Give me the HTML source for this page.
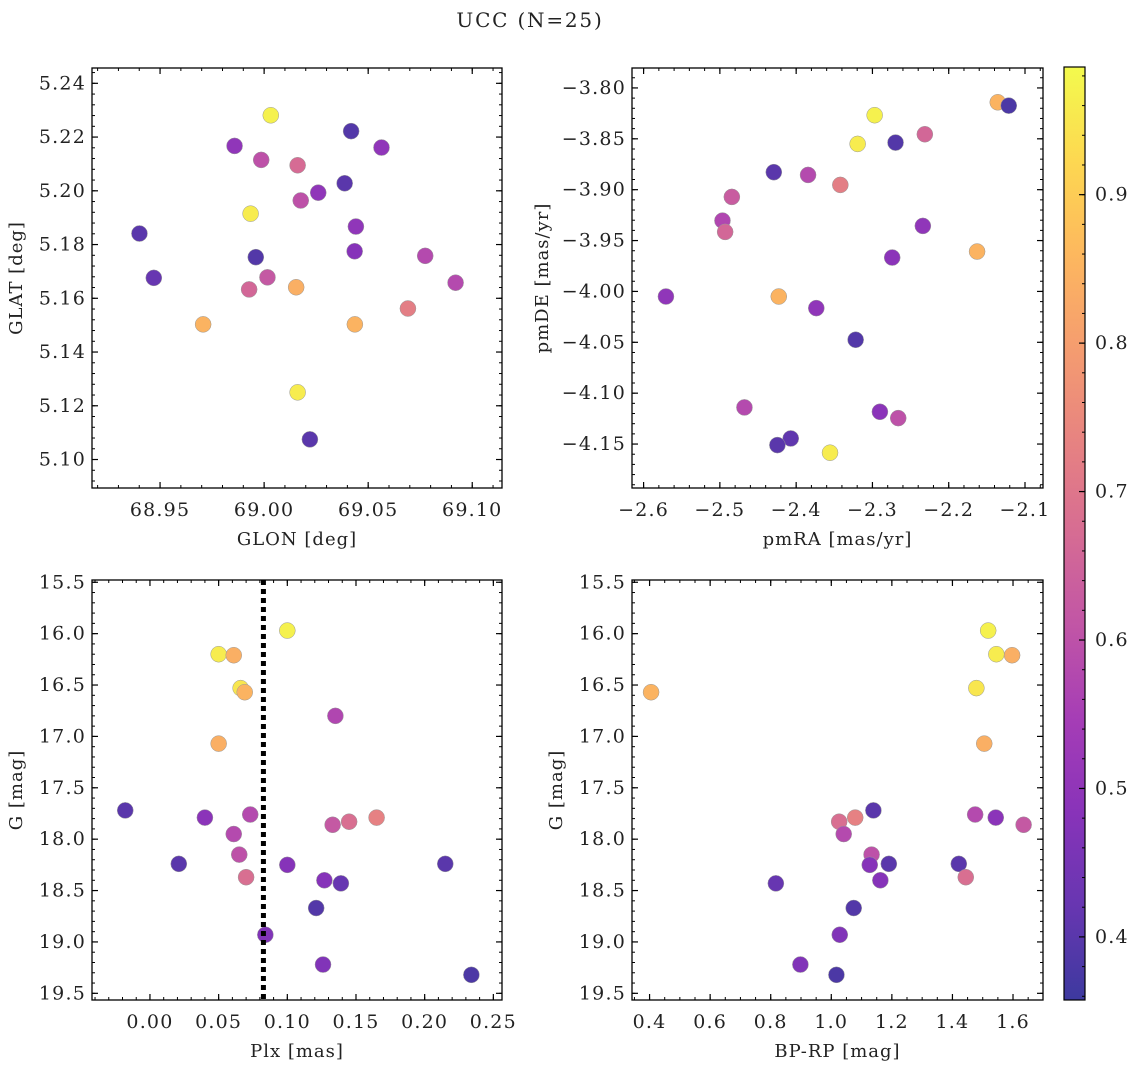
<!DOCTYPE html>
<html><head><meta charset="utf-8">
<style>html,body{margin:0;padding:0;background:#fff}svg{display:block}text{font-family:"DejaVu Serif","Liberation Serif",serif;fill:#222}</style>
</head><body>
<svg id="fig" width="1136" height="1067" viewBox="0 0 1136 1067" xmlns="http://www.w3.org/2000/svg">
<text x="530" y="27" text-anchor="middle" font-size="20" letter-spacing="1.8">UCC (N=25)</text>
</svg>
<script>
// Panel 1: GLON vs GLAT
const p1x=[69.0032,69.0418,68.9858,69.0564,68.9986,69.0161,69.0387,69.026,69.0176,68.9935,69.0441,68.9401,69.0435,68.996,69.0774,68.947,69.0016,69.092,68.9928,69.0154,69.0691,68.9707,69.0436,69.0161,69.022];
const p1y=[5.2281,5.2222,5.2167,5.2161,5.2115,5.2095,5.2028,5.1993,5.1964,5.1915,5.1867,5.1841,5.1775,5.1753,5.1758,5.1676,5.1678,5.1658,5.1633,5.1641,5.1562,5.1503,5.1503,5.125,5.1075];
const p1c=[0.97,0.39,0.50,0.50,0.60,0.67,0.40,0.50,0.60,0.96,0.50,0.40,0.48,0.39,0.58,0.42,0.62,0.58,0.66,0.84,0.72,0.85,0.85,0.96,0.40];
// Panel 2: pmRA vs pmDE
const p2x=[-2.1357,-2.1213,-2.2971,-2.2313,-2.3194,-2.2697,-2.4293,-2.3844,-2.3421,-2.4843,-2.4966,-2.4931,-2.2339,-2.1628,-2.2741,-2.5707,-2.4228,-2.3736,-2.322,-2.4678,-2.2902,-2.2662,-2.4071,-2.4246,-2.3556];
const p2y=[-3.8141,-3.8174,-3.8268,-3.8455,-3.855,-3.8537,-3.8828,-3.8855,-3.8953,-3.9071,-3.9304,-3.9415,-3.9356,-3.9608,-3.9667,-4.005,-4.005,-4.0164,-4.0475,-4.114,-4.1183,-4.1245,-4.1445,-4.151,-4.1585];
const p2c=[0.85,0.38,0.97,0.66,0.96,0.39,0.40,0.58,0.72,0.63,0.57,0.66,0.50,0.85,0.49,0.50,0.85,0.50,0.39,0.58,0.49,0.60,0.41,0.40,0.96];
// Panels 3/4: Plx, BP-RP vs G (shared stars)
const gmag=[15.97,16.20,16.21,16.53,16.57,16.80,17.07,17.72,17.79,17.76,17.79,17.83,17.86,17.95,18.15,18.24,18.25,18.24,18.37,18.40,18.43,18.67,18.93,19.22,19.32];
const plx=[0.100,0.050,0.061,0.066,0.069,0.135,0.050,-0.018,0.040,0.073,0.165,0.145,0.133,0.061,0.065,0.021,0.100,0.215,0.070,0.127,0.139,0.121,0.084,0.126,0.234];
const bprp=[1.518,1.545,1.597,1.479,0.405,null,1.505,1.139,1.543,1.475,1.079,1.026,1.635,1.041,1.133,1.190,1.127,1.421,1.444,1.162,0.817,1.074,1.028,0.898,1.017];
const prob34=[0.97,0.96,0.84,0.95,0.85,0.57,0.84,0.40,0.49,0.58,0.73,0.68,0.62,0.58,0.60,0.40,0.48,0.40,0.68,0.48,0.42,0.39,0.47,0.47,0.38];
const plxLine=0.0826;
const cbMin=0.3575, cbMax=0.986;
const cbTicks=[0.4,0.5,0.6,0.7,0.8,0.9];

const NS="http://www.w3.org/2000/svg";
const svg=document.getElementById('fig');
function el(tag,attrs,parent){const e=document.createElementNS(NS,tag);for(const k in attrs)e.setAttribute(k,attrs[k]);(parent||svg).appendChild(e);return e;}
const stops=[[13,8,135],[65,4,157],[106,0,168],[143,13,164],[177,42,144],[204,71,120],[225,100,98],[242,132,75],[252,166,54],[252,206,37],[240,249,33]];
const ALPHA=0.8;
function plasma(t){t=Math.max(0,Math.min(1,t));const f=t*10,i=Math.min(9,Math.floor(f)),r=f-i;const a=stops[i],b=stops[i+1];
 const m=k=>Math.round((a[k]+(b[k]-a[k])*r)*ALPHA+255*(1-ALPHA));
 return `rgb(${m(0)},${m(1)},${m(2)})`;}
function cmap(v){return plasma((v-cbMin)/(cbMax-cbMin));}
const TF=19, TLS=1.2, LF=18, LLS=1;

function panel(cfg){
 const {name,L,R,T,B,xmin,xmax,ymin,ymax,yinv,xmaj,xmin_,ymaj,ymin_,xfmt,yfmt,xlabel,ylabel}=cfg;
 const g=el('g',{});
 
 
 const sx=v=>L+(v-xmin)/(xmax-xmin)*(R-L);
 const sy=v=>yinv? T+(v-ymin)/(ymax-ymin)*(B-T) : B-(v-ymin)/(ymax-ymin)*(B-T);
 const eps=1e-9;
 function ticks(step,lo,hi){const a=[];let s=Math.ceil((lo-eps)/step);for(let v=s*step;v<=hi+eps;v=(++s)*step)a.push(+v.toFixed(6));return a;}
 ticks(xmin_,xmin,xmax).forEach(v=>{const x=sx(v);el('line',{x1:x,x2:x,y1:B,y2:B-3,stroke:'#000','stroke-width':1},g);el('line',{x1:x,x2:x,y1:T,y2:T+3,stroke:'#000','stroke-width':1},g);});
 ticks(ymin_,Math.min(ymin,ymax),Math.max(ymin,ymax)).forEach(v=>{const y=sy(v);el('line',{x1:L,x2:L+3,y1:y,y2:y,stroke:'#000','stroke-width':1},g);el('line',{x1:R,x2:R-3,y1:y,y2:y,stroke:'#000','stroke-width':1},g);});
 ticks(xmaj,xmin,xmax).forEach(v=>{const x=sx(v);el('line',{x1:x,x2:x,y1:B,y2:B-6,stroke:'#000','stroke-width':1.2},g);el('line',{x1:x,x2:x,y1:T,y2:T+6,stroke:'#000','stroke-width':1.2},g);
  const t=el('text',{x:x,y:B+28,'text-anchor':'middle','font-size':TF,'letter-spacing':TLS},g);t.textContent=xfmt(v);
  
  });
 ticks(ymaj,Math.min(ymin,ymax),Math.max(ymin,ymax)).forEach(v=>{const y=sy(v);el('line',{x1:L,x2:L+6,y1:y,y2:y,stroke:'#000','stroke-width':1.2},g);el('line',{x1:R,x2:R-6,y1:y,y2:y,stroke:'#000','stroke-width':1.2},g);
  const t=el('text',{x:L-6,y:y+6,'text-anchor':'end','font-size':TF,'letter-spacing':TLS},g);t.textContent=yfmt(v);
  
  });
 const xl=el('text',{x:(L+R)/2,y:B+57,'text-anchor':'middle','font-size':LF,'letter-spacing':LLS},g);xl.textContent=xlabel;
 
 
 const yl=el('text',{x:0,y:0,'text-anchor':'middle','font-size':LF,'letter-spacing':LLS,transform:`translate(${cfg.ylx},${(T+B)/2}) rotate(-90)`},g);yl.textContent=ylabel;
 
 
 return {g,sx,sy,frame:()=>el('rect',{x:L,y:T,width:R-L,height:B-T,fill:'none',stroke:'#000','stroke-width':1.3},g)};
}
const minus=s=>s.replace('-','\u2212');
function points(p,xs,ys,cs){xs.forEach((xv,i)=>{if(xv===null)return;const c=el('circle',{cx:p.sx(xv),cy:p.sy(ys[i]),r:8,fill:cmap(cs[i]),stroke:'#999','stroke-width':0.5},p.g);
 
 });}

const p1=panel({name:'glon-glat-panel',L:92,R:502,T:68,B:488,xmin:68.9173,xmax:69.1143,ymin:5.0894,ymax:5.2457,xmaj:0.05,xmin_:0.01,ymaj:0.02,ymin_:0.004,xfmt:v=>v.toFixed(2),yfmt:v=>v.toFixed(2),xlabel:'GLON [deg]',ylabel:'GLAT [deg]',ylx:22});
points(p1,p1x,p1y,p1c);p1.frame();
const p2=panel({name:'pm-panel',L:632,R:1043,T:68,B:488,xmin:-2.6152,xmax:-2.0764,ymin:-4.1932,ymax:-3.7804,xmaj:0.1,xmin_:0.02,ymaj:0.05,ymin_:0.01,xfmt:v=>minus(v.toFixed(1)),yfmt:v=>minus(v.toFixed(2)),xlabel:'pmRA [mas/yr]',ylabel:'pmDE [mas/yr]',ylx:548});
points(p2,p2x,p2y,p2c);p2.frame();
const p3=panel({name:'plx-g-panel',L:92,R:502,T:580,B:1000,xmin:-0.0422,xmax:0.2563,ymin:15.478,ymax:19.565,yinv:true,xmaj:0.05,xmin_:0.01,ymaj:0.5,ymin_:0.1,xfmt:v=>v.toFixed(2),yfmt:v=>v.toFixed(1),xlabel:'Plx [mas]',ylabel:'G [mag]',ylx:22});
points(p3,plx,gmag,prob34);
const vl=el('line',{x1:p3.sx(plxLine),x2:p3.sx(plxLine),y1:580,y2:1000,stroke:'#000','stroke-width':5,'stroke-dasharray':'5 4'},p3.g);


p3.frame();
const p4=panel({name:'cmd-panel',L:632,R:1043,T:580,B:1000,xmin:0.342,xmax:1.699,ymin:15.478,ymax:19.565,yinv:true,xmaj:0.2,xmin_:0.05,ymaj:0.5,ymin_:0.1,xfmt:v=>v.toFixed(1),yfmt:v=>v.toFixed(1),xlabel:'BP-RP [mag]',ylabel:'G [mag]',ylx:562});
points(p4,bprp,gmag,prob34);p4.frame();

// colorbar
const cb=el('g',{});


const CL=1064,CR=1085,CT=67,CB=1000;
const defs=el('defs',{},cb);const lg=el('linearGradient',{id:'cbg',x1:0,y1:1,x2:0,y2:0},defs);
for(let i=0;i<=20;i++){el('stop',{offset:(i/20),'stop-color':plasma(i/20)},lg);}
el('rect',{x:CL,y:CT,width:CR-CL,height:CB-CT,fill:'url(#cbg)',stroke:'#000','stroke-width':1.2},cb);
const cy=v=>CB-(v-cbMin)/(cbMax-cbMin)*(CB-CT);
for(let v=0.36;v<cbMax;v+=0.02){const y=cy(v);el('line',{x1:CR,x2:CR-3,y1:y,y2:y,stroke:'#000','stroke-width':1},cb);}
cbTicks.forEach(v=>{const y=cy(v);el('line',{x1:CR,x2:CR-6,y1:y,y2:y,stroke:'#000','stroke-width':1.2},cb);
 const t=el('text',{x:CR+10,y:y+6,'font-size':TF,'letter-spacing':TLS},cb);t.textContent=v.toFixed(1);
 
 });
</script>
</body></html>
